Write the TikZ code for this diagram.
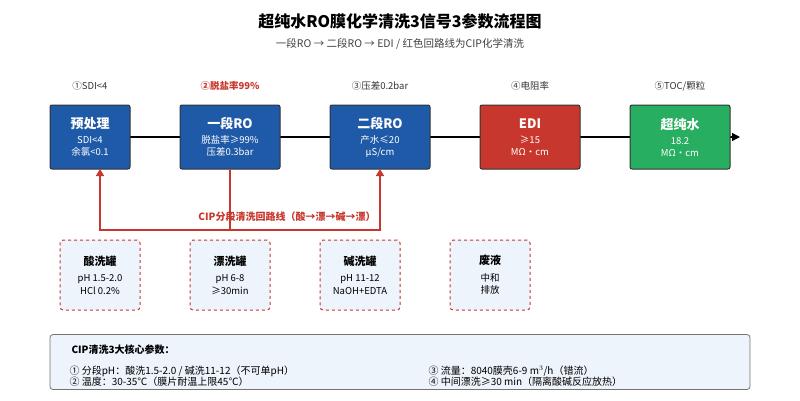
\documentclass[tikz,border=0pt]{standalone}
\usepackage{fontspec}
\setmainfont{Noto Sans CJK SC}
\usetikzlibrary{arrows.meta}
\definecolor{bl}{HTML}{1F5AA8}
\definecolor{rd}{HTML}{C8372D}
\definecolor{gr}{HTML}{27AE60}
\definecolor{lb}{HTML}{EEF4FC}
\newcommand\bigttl{\fontsize{13}{15}\selectfont\bfseries}
\newcommand\tankttl{\fontsize{11}{14}\selectfont\bfseries}
\tikzset{
 box/.style={draw=black!80,line width=1pt,rounded corners=2pt,minimum width=80pt,minimum height=64pt,text=white,align=center,font=\fontsize{9.5}{12}\selectfont},
 tank/.style={draw=rd,dashed,line width=1pt,rounded corners=3pt,fill=lb,minimum width=80pt,minimum height=70pt,align=center,font=\fontsize{9.5}{12.5}\selectfont},
 lab/.style={font=\fontsize{9.5}{11}\selectfont,text=black!80},
}
\begin{document}
\begin{tikzpicture}[x=1pt,y=-1pt]
\useasboundingbox (0,0) rectangle (800,400);
\node[font=\fontsize{16}{18}\selectfont\bfseries] (t) at (400,21) {超纯水RO膜化学清洗3信号3参数流程图};
\node[font=\fontsize{10.5}{12}\selectfont,text=black!75] (st) at (400,44) {一段RO → 二段RO → EDI / 红色回路线为CIP化学清洗};
\coordinate (end) at (740,137);
\coordinate (st0) at (130,137);
\draw[line width=1.5pt,-{Triangle[length=8pt,width=8pt]}] (st0) -- (end);
\node[box,fill=bl] (a) at (90,137) {{\bigttl 预处理}\\[3pt]SDI<4\\余氯<0.1};
\node[box,fill=bl,minimum width=100pt] (b) at (230,137) {{\bigttl 一段RO}\\[3pt]脱盐率≥99\%\\压差0.3bar};
\node[box,fill=bl,minimum width=100pt] (c) at (380,137) {{\bigttl 二段RO}\\[3pt]产水≤20\\μS/cm};
\node[box,fill=rd,minimum width=100pt] (d) at (530,137) {{\bigttl EDI}\\[3pt]≥15\\MΩ·cm};
\node[box,fill=gr,minimum width=100pt] (e) at (680,137) {{\bigttl 超纯水}\\[3pt]18.2\\MΩ·cm};
\node[lab] (l1) at (90,86) {①SDI<4};
\node[lab,text=rd,font=\fontsize{9.5}{11}\selectfont\bfseries] (l2) at (230,86) {②脱盐率99\%};
\node[lab] (l3) at (380,86) {③压差0.2bar};
\node[lab] (l4) at (530,86) {④电阻率};
\node[lab] (l5) at (680,86) {⑤TOC/颗粒};
\coordinate (j) at (230,230);
\coordinate (ta) at (100,169);
\coordinate (tc) at (380,169);
\draw[rd,line width=1.5pt] (b.south) -- (j);
\draw[rd,line width=1.5pt,-{Triangle[length=7pt,width=8pt]}] (j) -| (ta);
\draw[rd,line width=1.5pt,-{Triangle[length=7pt,width=8pt]}] (j) -| (tc);
\node[text=rd,font=\fontsize{10}{12}\selectfont\bfseries,inner sep=1pt] (cl) at (287,217) {CIP分段清洗回路线（酸→漂→碱→漂）};
\node[tank] (k1) at (100,275) {{\tankttl 酸洗罐}\\[4pt]pH 1.5-2.0\\HCl 0.2\%};
\node[tank] (k2) at (230,275) {{\tankttl 漂洗罐}\\[4pt]pH 6-8\\≥30min};
\node[tank] (k3) at (360,275) {{\tankttl 碱洗罐}\\[4pt]pH 11-12\\NaOH+EDTA};
\node[tank] (k4) at (490,275) {{\tankttl 废液}\\[4pt]中和\\排放};
\node[draw=black!55,line width=0.8pt,rounded corners=3pt,fill=lb,minimum width=700pt,minimum height=55pt] (p) at (400,362) {};
\node[anchor=west,font=\fontsize{10}{12}\selectfont\bfseries] (p0) at (68,350) {CIP清洗3大核心参数：};
\node[anchor=west,font=\fontsize{10}{11}\selectfont,align=left] (p1) at (66,376) {① 分段pH：酸洗1.5-2.0 / 碱洗11-12（不可单pH）\\② 温度：30-35℃（膜片耐温上限45℃）};
\node[anchor=west,font=\fontsize{10}{11}\selectfont,align=left] (p2) at (425,376) {③ 流量：8040膜壳6-9 m$^3$/h（错流）\\④ 中间漂洗≥30 min（隔离酸碱反应放热）};
\end{tikzpicture}
\end{document}
